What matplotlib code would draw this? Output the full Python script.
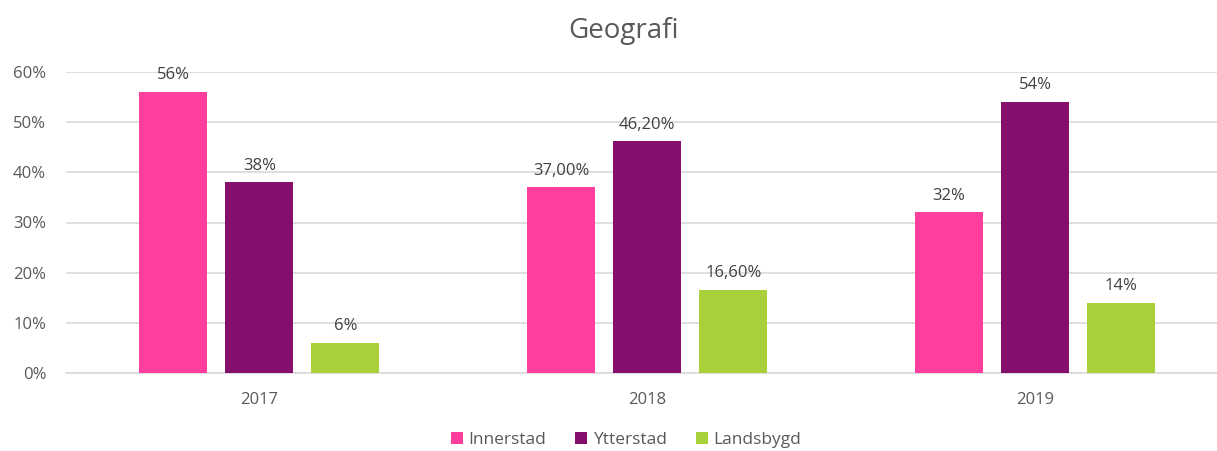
import matplotlib
matplotlib.use("Agg")
import matplotlib.pyplot as plt
import numpy as np

years = ["2017", "2018", "2019"]
series = ["Innerstad", "Ytterstad", "Landsbygd"]
innerstad = [56.0, 37.0, 32.0]
ytterstad = [38.0, 46.2, 54.0]
landsbygd = [6.0, 16.6, 14.0]
labels_innerstad = ["56%", "37,00%", "32%"]
labels_ytterstad = ["38%", "46,20%", "54%"]
labels_landsbygd = ["6%", "16,60%", "14%"]
yticks = [0, 10, 20, 30, 40, 50, 60]
ytick_labels = ["0%", "10%", "20%", "30%", "40%", "50%", "60%"]
colors = ["#FF3E9E", "#860F6E", "#A8D03A"]

plt.rcParams['font.family'] = ['Open Sans', 'DejaVu Sans']
text_color = "#595959"

W, H = 1217, 451
fig = plt.figure(figsize=(W / 100, H / 100), dpi=100)
left_px, right_px = 65.6, 1217
bottom_px, top_px = 451 - 373, 451 - 72
ax = fig.add_axes([left_px / W, bottom_px / H, (right_px - left_px) / W, (top_px - bottom_px) / H])

spacing = 387.75
x = np.arange(len(years))
ax.set_xlim(-0.5, -0.5 + (right_px - left_px) / spacing)
ax.set_ylim(0, 60)

bw = 68 / spacing
off = 86 / spacing
all_vals = [innerstad, ytterstad, landsbygd]
all_labels = [labels_innerstad, labels_ytterstad, labels_landsbygd]
for i, (vals, labs, name) in enumerate(zip(all_vals, all_labels, series)):
    pos = x + (i - 1) * off
    bars = ax.bar(pos, vals, width=bw, color=colors[i], label=name, zorder=3)
    for b, lab in zip(bars, labs):
        ax.annotate(lab, (b.get_x() + b.get_width() / 2, b.get_height()),
                    xytext=(0, 12), textcoords="offset points", ha="center", va="center",
                    fontsize=12, color="#404040", annotation_clip=False)

ax.set_yticks(yticks)
ax.set_yticklabels(ytick_labels)
ax.set_xticks(x)
ax.set_xticklabels(years)
ax.tick_params(axis="both", length=0, labelsize=12, colors=text_color)
ax.tick_params(axis="y", pad=14)
ax.tick_params(axis="x", pad=14)
ax.grid(axis="y", color="#D9D9D9", linewidth=1.2, zorder=0)
for s in ["top", "right", "left"]:
    ax.spines[s].set_visible(False)
ax.spines["bottom"].set_color("#D9D9D9")
ax.spines["bottom"].set_linewidth(1.2)

fig.text(623 / W, 1 - 31 / H, "Geografi", ha="center", va="center", fontsize=20, color=text_color)

leg = fig.legend(loc="center", bbox_to_anchor=(626 / W, 1 - 440 / H), ncol=3, frameon=False,
                 fontsize=12.5, handlelength=0.7, handleheight=0.7, handletextpad=0.3,
                 columnspacing=1.7, labelcolor=text_color)

fig.savefig("out.png", dpi=100)
